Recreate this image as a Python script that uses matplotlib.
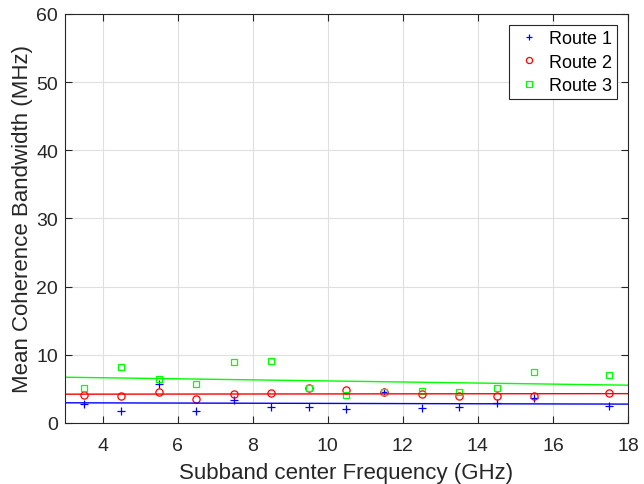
import numpy as np
import matplotlib.pyplot as plt

plt.rcParams['font.family'] = ['Liberation Sans', 'DejaVu Sans']

# subband centre frequencies (GHz)
freq = [3.5, 4.5, 5.5, 6.5, 7.5, 8.5, 9.5, 10.5, 11.5, 12.5, 13.5, 14.5, 15.5, 17.5]

# mean coherence bandwidth per route (MHz)
route1 = [2.8, 1.8, 5.7, 1.8, 3.4, 2.3, 2.3, 2.1, 4.5, 2.2, 2.3, 2.9, 3.6, 2.5]
route2 = [4.1, 4.0, 4.5, 3.5, 4.2, 4.4, 5.1, 4.8, 4.5, 4.3, 4.0, 4.0, 3.9, 4.4]
route3 = [5.1, 8.2, 6.5, 5.7, 9.0, 9.1, 5.1, 4.1, 4.6, 4.7, 4.6, 5.1, 7.5, 7.0]

labels = ['Route 1', 'Route 2', 'Route 3']
colors = ['#0000ff', '#ff0000', '#00ff00']
markers = ['+', 'o', 's']
sizes = [5.5, 5.2, 4.6]

fig = plt.figure(figsize=(6.44, 4.85), dpi=100)
ax = fig.add_axes([0.1009, 0.1258, 0.8742, 0.8433])

xfit = np.array([3, 18])
for y, lab, c, m, s in zip([route1, route2, route3], labels, colors, markers, sizes):
    if m == '+':
        ax.plot(freq, y, m, color=c, ms=s, mew=0.9, label=lab, linestyle='none')
    else:
        ax.plot(freq, y, m, mfc='none', mec=c, ms=s, mew=0.9, label=lab,
                linestyle='none')
# least-squares trend line per route
for y, c in zip([route1, route2, route3], colors):
    p = np.polyfit(freq, y, 1)
    ax.plot(xfit, np.polyval(p, xfit), color=c, lw=1)

ax.set_xlim(3, 18)
ax.set_ylim(0, 60)
ax.set_xticks(range(4, 19, 2))
ax.set_yticks(range(0, 61, 10))
ax.grid(True, color='#dfdfdf', lw=0.8)
ax.set_axisbelow(True)
ax.tick_params(direction='in', labelsize=14, length=5, top=True, right=True,
               labeltop=False, labelright=False, colors='#262626')
ax.tick_params(axis='x', pad=10)
ax.tick_params(axis='y', pad=5)
for s in ax.spines.values():
    s.set_color('#262626')
    s.set_linewidth(0.8)

ax.set_xlabel('Subband center Frequency (GHz)', fontsize=16, color='#262626',
              labelpad=6)
ax.set_ylabel('Mean Coherence Bandwidth (MHz)', fontsize=16, color='#262626',
              labelpad=2)

leg = ax.legend(loc='upper right', fontsize=13, fancybox=False, framealpha=1,
                edgecolor='#262626', borderaxespad=0.6, handlelength=1.6,
                handletextpad=0.3, borderpad=0.3, labelspacing=0.35,
                markerscale=0.85)
leg.get_frame().set_linewidth(0.8)

fig.savefig('out.png', dpi=100)
